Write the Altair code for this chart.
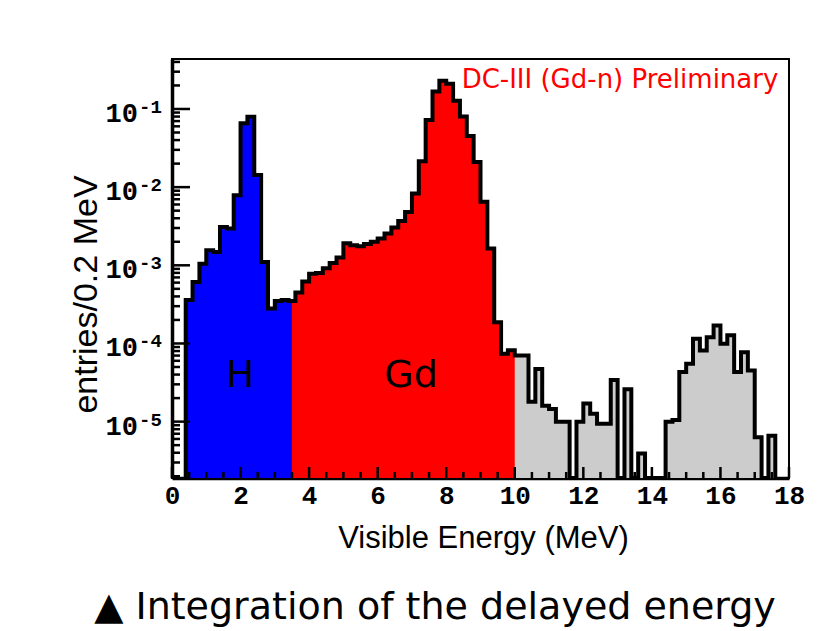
import altair as alt
import pandas as pd

# ---------------- data ----------------
BIN_START = 0.4          # MeV, left edge of first filled bin
BIN_WIDTH = 0.2          # MeV
entries = [
    3.6e-4, 6.1e-4, 1.05e-3, 1.56e-3, 1.48e-3, 3.1e-3, 2.95e-3, 7.9e-3,   # 0.4 - 1.8
    0.0655, 0.0797, 0.0143, 1.1e-3, 2.8e-4, 3.5e-4, 3.6e-4, 3.5e-4,       # 2.0 - 3.4
    4.5e-4, 6.2e-4, 7.8e-4, 8.0e-4, 9.2e-4, 1.07e-3, 1.26e-3, 1.92e-3,    # 3.6 - 5.0
    1.8e-3, 1.75e-3, 1.87e-3, 2.0e-3, 2.2e-3, 2.55e-3, 3.05e-3, 3.7e-3,   # 5.2 - 6.6
    4.8e-3, 8.3e-3, 0.0215, 0.0723, 0.167, 0.229, 0.21, 0.127,            # 6.8 - 8.2
    0.08, 0.045, 0.021, 6.5e-3, 1.64e-3, 1.87e-4, 7.4e-5, 8.2e-5,         # 8.4 - 9.8
    7.0e-5, 7.0e-5, 1.8e-5, 4.7e-5, 1.6e-5, 1.45e-5, 1.0e-5, 1.0e-5,      # 10.0 - 11.4
    0, 1.0e-5, 1.7e-5, 1.26e-5, 9.4e-6, 9.4e-6, 3.4e-5, 0,                # 11.6 - 13.0
    2.6e-5, 0, 3.9e-6, 0, 0, 0, 1.0e-5, 1.05e-5,                          # 13.2 - 14.6
    4.3e-5, 5.5e-5, 1.15e-4, 8.1e-5, 1.2e-4, 1.7e-4, 9.9e-5, 1.27e-4,     # 14.8 - 16.2
    4.3e-5, 7.7e-5, 4.5e-5, 6.3e-6, 0, 6.6e-6,                            # 16.4 - 17.4
]
H_GD_CUT = 3.5           # MeV, H / Gd integration boundary
GD_END = 10.0            # MeV, end of Gd window

X_DOMAIN = [0, 18]
Y_DOMAIN = [1.9e-6, 0.436]

x_major = [0, 2, 4, 6, 8, 10, 12, 14, 16, 18]
x_minor = [0.5, 1, 1.5, 2.5, 3, 3.5, 4.5, 5, 5.5, 6.5, 7, 7.5, 8.5, 9, 9.5,
           10.5, 11, 11.5, 12.5, 13, 13.5, 14.5, 15, 15.5, 16.5, 17, 17.5]
y_major = [1e-5, 1e-4, 1e-3, 1e-2, 1e-1]
y_major_exp = ["-5", "-4", "-3", "-2", "-1"]
y_minor = [m * d for d in [1e-6, 1e-5, 1e-4, 1e-3, 1e-2, 1e-1] for m in range(2, 10)
           if Y_DOMAIN[0] <= m * d <= Y_DOMAIN[1]]

# ---------------- tables ----------------
FLOOR = Y_DOMAIN[0]
edges = [round(BIN_START + i * BIN_WIDTH, 1) for i in range(len(entries))]
last_edge = round(edges[-1] + BIN_WIDTH, 1)
vals = [v if v > 0 else FLOOR for v in entries]

line_rows = [{"x": edges[0], "y": FLOOR, "o": 0}]
for i, (e, v) in enumerate(zip(edges, vals)):
    line_rows.append({"x": e, "y": v, "o": i + 1})
line_rows.append({"x": last_edge, "y": FLOOR, "o": len(edges) + 1})
line_df = pd.DataFrame(line_rows)


def value_at(xv):
    for e, v in zip(edges, vals):
        if e <= xv < e + BIN_WIDTH - 1e-9:
            return v
    return FLOOR


blue = [{"x": e, "y": v} for e, v in zip(edges, vals) if e < H_GD_CUT]
blue.append({"x": H_GD_CUT, "y": value_at(H_GD_CUT)})
red = [{"x": H_GD_CUT, "y": value_at(H_GD_CUT)}]
red += [{"x": e, "y": v} for e, v in zip(edges, vals) if H_GD_CUT < e < GD_END - 1e-9]
red.append({"x": GD_END, "y": value_at(GD_END - 0.1)})
gray = [{"x": e, "y": v} for e, v in zip(edges, vals) if e >= GD_END - 1e-9]
gray.append({"x": last_edge, "y": vals[-1]})

W, H = 617, 419

xs = alt.Scale(domain=X_DOMAIN, nice=False, zero=False)
ys = alt.Scale(type="log", domain=Y_DOMAIN, nice=False)

x_axis = alt.Axis(values=x_major, format="d", ticks=False, grid=False,
                  domainColor="black", domainWidth=3.5, labelFlush=False,
                  labelFont="Liberation Mono", labelFontWeight="bold",
                  labelFontSize=26, labelColor="black", labelPadding=4,
                  title="Visible Energy (MeV)", titleFont="Liberation Sans",
                  titleFontWeight="normal", titleFontSize=31, titleColor="black",
                  titleX=311, titleY=60, titleBaseline="middle", titleAlign="center")
y_axis = alt.Axis(values=y_major, labels=False, ticks=False, grid=False,
                  domainColor="black", domainWidth=3.5,
                  title="entries/0.2 MeV", titleFont="Liberation Sans",
                  titleFontWeight="normal", titleFontSize=34, titleColor="black",
                  titleX=-86, titleY=235, titleBaseline="middle", titleAlign="center",
                  titleAngle=270)


def area(rows, color):
    return alt.Chart(pd.DataFrame(rows)).mark_area(
        interpolate="step-after", color=color, opacity=1
    ).encode(
        x=alt.X("x:Q", scale=xs, axis=x_axis),
        y=alt.Y("y:Q", scale=ys, axis=y_axis),
        y2=alt.datum(FLOOR),
    )


blue_area = area(blue, "#0000ff")
red_area = area(red, "#ff0000")
gray_area = area(gray, "#cccccc")

outline = alt.Chart(line_df).mark_line(
    interpolate="step-after", color="black", strokeWidth=4, strokeJoin="miter"
).encode(
    x=alt.X("x:Q", scale=xs),
    y=alt.Y("y:Q", scale=ys),
    order="o:Q",
)

xmaj = alt.Chart(pd.DataFrame({"v": x_major})).mark_rule(color="black", strokeWidth=2.5).encode(
    x=alt.X("v:Q", scale=xs), y=alt.value(H), y2=alt.value(H - 11))
xmin = alt.Chart(pd.DataFrame({"v": x_minor})).mark_rule(color="black", strokeWidth=2.5).encode(
    x=alt.X("v:Q", scale=xs), y=alt.value(H), y2=alt.value(H - 6))
ymaj = alt.Chart(pd.DataFrame({"v": y_major})).mark_rule(color="black", strokeWidth=2.5).encode(
    y=alt.Y("v:Q", scale=ys), x=alt.value(0), x2=alt.value(18))
ymin = alt.Chart(pd.DataFrame({"v": y_minor})).mark_rule(color="black", strokeWidth=2.5).encode(
    y=alt.Y("v:Q", scale=ys), x=alt.value(0), x2=alt.value(8))

ylab_df = pd.DataFrame({"v": y_major, "e": y_major_exp})
ylab_base = alt.Chart(ylab_df).mark_text(
    text="10", font="Liberation Mono", fontWeight="bold", fontSize=27,
    align="right", baseline="alphabetic", dy=13, color="black"
).encode(y=alt.Y("v:Q", scale=ys), x=alt.value(-34))
ylab_exp = alt.Chart(ylab_df).mark_text(
    font="Liberation Mono", fontWeight="bold", fontSize=19,
    align="left", baseline="alphabetic", dy=4, color="black"
).encode(y=alt.Y("v:Q", scale=ys), x=alt.value(-33), text="e:N")

notes_df = pd.DataFrame({
    "t": ["H", "Gd"],
    "px": [68, 239],
    "py": [317, 317],
})
notes = alt.Chart(notes_df).mark_text(
    font="DejaVu Sans", fontSize=38, color="black", align="center", baseline="middle"
).encode(text="t:N", x=alt.X("px:Q", scale=None), y=alt.Y("py:Q", scale=None))

prelim = alt.Chart(pd.DataFrame({"t": ["DC-III (Gd-n) Preliminary"]})).mark_text(
    font="DejaVu Sans", fontSize=26, color="#ff0000", align="center", baseline="middle"
).encode(text="t:N", x=alt.value(448), y=alt.value(21))

caption = alt.Chart(pd.DataFrame({"t": ["\u25b2 Integration of the delayed energy"]})).mark_text(
    font="DejaVu Sans", fontSize=38, color="black", align="center", baseline="middle"
).encode(text="t:N", x=alt.value(263), y=alt.value(549))

chart = alt.layer(
    gray_area, red_area, blue_area, outline,
    xmaj, xmin, ymaj, ymin, ylab_base, ylab_exp, notes, prelim, caption,
).properties(
    width=W, height=H,
    autosize=alt.AutoSizeParams(type="none"),
    padding={"left": 172, "top": 59, "right": 38, "bottom": 153},
    background="white",
).configure_view(stroke="black", strokeWidth=2)

chart.save("out.html", embed_options={"renderer": "svg", "actions": False})
